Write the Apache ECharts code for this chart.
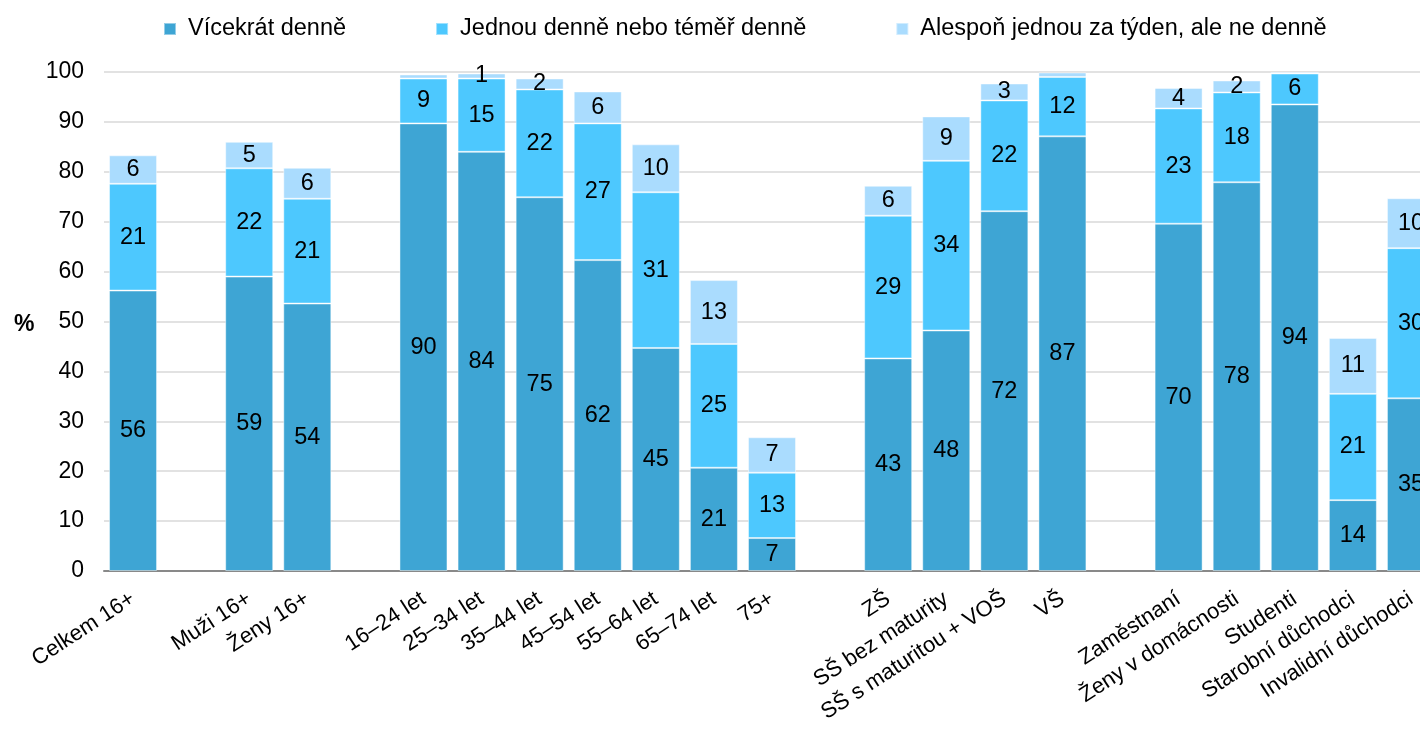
<!DOCTYPE html>
<html>
<head>
<meta charset="utf-8">
<script src="https://cdn.jsdelivr.net/npm/echarts@6/dist/echarts.min.js"></script>
<style>
html,body{margin:0;padding:0;background:#fff;}
#chart{width:1420px;height:730px;}
</style>
</head>
<body>
<div id="chart"></div>
<script>
var categories = ['Celkem 16+', ' ', 'Muži 16+', 'Ženy 16+', '  ',
  '16–24 let', '25–34 let', '35–44 let', '45–54 let', '55–64 let', '65–74 let', '75+', '   ',
  'ZŠ', 'SŠ bez maturity', 'SŠ s maturitou + VOŠ', 'VŠ', '    ',
  'Zaměstnaní', 'Ženy v domácnosti', 'Studenti', 'Starobní důchodci', 'Invalidní důchodci'];

var seriesNames = ['Vícekrát denně', 'Jednou denně nebo téměř denně', 'Alespoň jednou za týden, ale ne denně'];

var several = [56.2, null, 59.0, 53.6, null, 89.7, 84.0, 74.9, 62.3, 44.7, 20.7, 6.6, null, 42.6, 48.2, 72.1, 87.1, null, 69.6, 77.9, 93.5, 14.2, 34.6];
var daily = [21.4, null, 21.7, 21.0, null, 9.0, 14.7, 21.6, 27.4, 31.2, 24.8, 13.1, null, 28.6, 34.0, 22.2, 11.9, null, 23.1, 18.0, 6.2, 21.3, 30.1];
var weekly = [5.7, null, 5.3, 6.2, null, 0.8, 1.0, 2.2, 6.4, 9.6, 12.8, 7.1, null, 6.0, 8.9, 3.4, 0.9, null, 4.1, 2.4, 0.3, 11.2, 10.0];

var yTicks = {min: 0, max: 100, interval: 10};

var colors = ['#3ea5d4', '#4dc8fe', '#aadcfe'];
var FONT = "'Liberation Sans', Arial, sans-serif";

function mkSeries(name, data, color) {
  return {
    name: name,
    type: 'bar',
    stack: 'total',
    barWidth: 48,
    data: data,
    itemStyle: {color: color, borderColor: 'rgba(255,255,255,0.45)', borderWidth: 1},
    label: {
      show: true,
      position: 'inside',
      color: '#000',
      fontSize: 23.5,
      fontFamily: FONT,
      formatter: function (p) {
        return (p.value != null && p.value >= 1) ? String(Math.round(p.value)) : '';
      }
    }
  };
}

var chart = echarts.init(document.getElementById('chart'));
chart.setOption({
  animation: false,
  textStyle: {fontFamily: FONT},
  color: colors,
  title: {
    text: '%',
    left: 9,
    top: 308,
    textStyle: {fontSize: 23, fontWeight: 'bold', color: '#000', fontFamily: FONT}
  },
  legend: {
    data: seriesNames,
    left: 158,
    top: 12,
    icon: 'rect',
    itemWidth: 12,
    itemHeight: 12,
    itemGap: 89,
    textStyle: {fontSize: 23.5, color: '#000', fontFamily: FONT, padding: [0, 0, 0, 7]}
  },
  grid: {left: 104, top: 72, bottom: 159, width: 1336, containLabel: false, outerBoundsMode: 'none'},
  xAxis: {
    type: 'category',
    data: categories,
    axisLine: {lineStyle: {color: '#898989', width: 2}},
    axisTick: {show: false},
    axisLabel: {interval: 0, rotate: 33, fontSize: 22, color: '#000', margin: 26, fontFamily: FONT}
  },
  yAxis: {
    type: 'value',
    min: yTicks.min,
    max: yTicks.max,
    interval: yTicks.interval,
    axisLine: {show: false},
    axisTick: {show: false},
    splitLine: {lineStyle: {color: '#d9d9d9', width: 1.5}},
    axisLabel: {fontSize: 23, color: '#000', margin: 20, fontFamily: FONT}
  },
  series: [
    mkSeries(seriesNames[0], several, colors[0]),
    mkSeries(seriesNames[1], daily, colors[1]),
    mkSeries(seriesNames[2], weekly, colors[2])
  ]
});
</script>
</body>
</html>
